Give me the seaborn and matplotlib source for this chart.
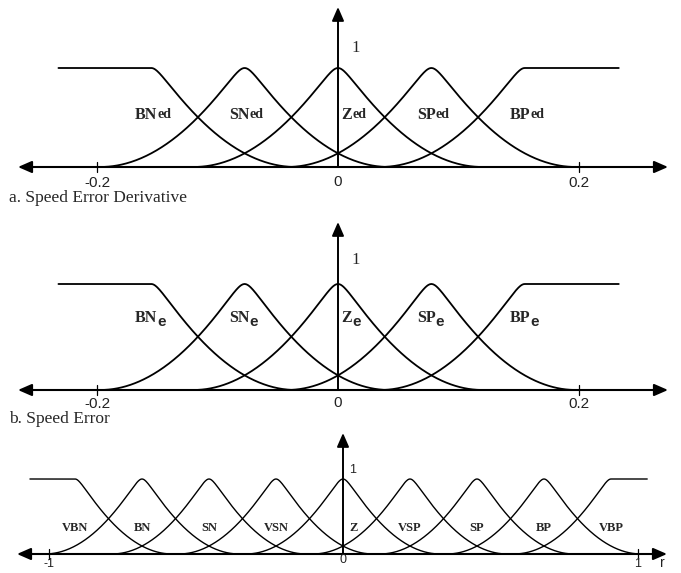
import numpy as np
import pandas as pd
import seaborn as sns
import matplotlib
matplotlib.use("Agg")
import matplotlib.pyplot as plt

# ---------------- membership-function definitions ----------------
# input sets (speed error derivative / speed error)
in_sets = ["BN", "SN", "Z", "SP", "BP"]
in_centers = [-0.155, -0.0775, 0.0, 0.0775, 0.155]
in_halfwidth = 0.12
in_universe = [-0.232, 0.233]
in_ticks = [-0.2, 0.0, 0.2]
in_tick_labels = ["-0.2", "0", "0.2"]

# output sets
out_sets = ["VBN", "BN", "SN", "VSN", "Z", "VSP", "SP", "BP", "VBP"]
out_centers = [-0.91, -0.6825, -0.455, -0.2275, 0.0, 0.2275, 0.455, 0.6825, 0.91]
out_halfwidth = 0.33
out_universe = [-1.063, 1.033]
out_ticks = [-1.0, 0.0, 1.0]
out_tick_labels = ["-1", "0", "1"]

captions = ["a. Speed Error Derivative", "b. Speed Error"]
suffixes = ["ed", "e"]

W, H = 681, 573
sns.set_theme(style="white")
plt.rcParams["font.family"] = ["Liberation Serif", "DejaVu Serif"]

fig = plt.figure(figsize=(W / 100, H / 100), dpi=100)
fig.patch.set_facecolor("white")


def bell(u, e=0.05):
    u = np.clip(np.abs(u), 0, 1)
    v = (np.sqrt(u ** 2 + e ** 2) - e) / (np.sqrt(1 + e ** 2) - e)
    return (1 - v) ** 2


def membership_frame(names, centers, hw, universe):
    rows = []
    n = len(names)
    for i, (name, c) in enumerate(zip(names, centers)):
        lo = universe[0] if i == 0 else c - hw
        hi = universe[1] if i == n - 1 else c + hw
        x = np.linspace(lo, hi, 400)
        mu = bell((x - c) / hw)
        if i == 0:
            mu = np.where(x <= c, 1.0, mu)
        if i == n - 1:
            mu = np.where(x >= c, 1.0, mu)
        rows.append(pd.DataFrame({"x": x, "mu": mu, "set": name}))
    return pd.concat(rows, ignore_index=True)


def make_axes(top, bottom, x0, xs, y0, ys):
    ax = fig.add_axes([0, 1 - bottom / H, 1, (bottom - top) / H])
    ax.set_xlim(-x0 / xs, (W - x0) / xs)
    ax.set_ylim((y0 - bottom) / ys, (y0 - top) / ys)
    ax.axis("off")
    return ax


def px(m, xpix, ypix):
    x0, xs, y0, ys = m
    return (xpix - x0) / xs, (y0 - ypix) / ys


def draw_axes_arrows(ax, m, left_px, right_px, top_px):
    x0, xs, y0, ys = m
    style = "<|-|>,head_length=0.55,head_width=0.24"
    ax.annotate("", xy=((right_px - x0) / xs, 0), xytext=((left_px - x0) / xs, 0),
                arrowprops=dict(arrowstyle=style, color="black", lw=1.5,
                                shrinkA=0, shrinkB=0, mutation_scale=15))
    ax.annotate("", xy=(0, (y0 - top_px) / ys), xytext=(0, 0),
                arrowprops=dict(arrowstyle="-|>,head_length=0.55,head_width=0.24",
                                color="black", lw=1.4, shrinkA=0, shrinkB=0,
                                mutation_scale=15))


def draw_ticks(ax, m, ticks, labels, label_rows, fs):
    x0, xs, y0, ys = m
    for t, lab, row in zip(ticks, labels, label_rows):
        if t != 0:
            ax.plot([t, t], [-5 / ys, 5 / ys], color="black", lw=0.9)
        ax.text(t, (y0 - row) / ys, lab, ha="center", va="center",
                fontsize=fs, family="Liberation Sans", color="#222222")


# ---------------- panels a and b ----------------
panel_maps = [
    (0, 212, (338, 1205, 167, 99), 7, 48, 115, 183, 198),
    (212, 432, (338, 1205, 390, 106), 222, 260, 318, 404, 419),
]

df_in = membership_frame(in_sets, in_centers, in_halfwidth, in_universe)

for k, (top, bottom, m, arrow_top, one_row, lab_row, tick_row, cap_row) in enumerate(panel_maps):
    ax = make_axes(top, bottom, *m)
    sns.lineplot(data=df_in, x="x", y="mu", units="set", estimator=None,
                 color="black", lw=1.3, ax=ax, legend=False)
    draw_axes_arrows(ax, m, 18, 668, arrow_top)
    draw_ticks(ax, m, in_ticks, in_tick_labels,
               [tick_row, tick_row - 1, tick_row], 11)
    ax.text(*px(m, 356, one_row), "1", ha="center", va="center", fontsize=12)
    ly = (m[2] - lab_row) / m[3]
    for name, c in zip(in_sets, in_centers):
        if c == 0:
            xpos, ha = 0.003, "left"
        else:
            xpos, ha = c - 5 / m[1], "center"
        base = ax.text(xpos, ly, name, ha=ha, va="center",
                       fontsize=11.5, fontweight="bold")
        if k == 0:
            ax.annotate(suffixes[k], xy=(1, 0.0), xycoords=base,
                        xytext=(0, 1.2), textcoords="offset points",
                        ha="left", va="bottom", fontsize=10, fontweight="bold")
        else:
            ax.annotate(suffixes[k], xy=(1, 0.0), xycoords=base,
                        xytext=(0, -2.0), textcoords="offset points",
                        ha="left", va="bottom", fontsize=11,
                        fontweight="bold", family="Liberation Sans")
    fig.text(9 / W, 1 - cap_row / H, captions[k], ha="left", va="center",
             fontsize=12.5)

# ---------------- panel c ----------------
mc = (343, 294.5, 554, 75)
axc = make_axes(432, 573, *mc)
df_out = membership_frame(out_sets, out_centers, out_halfwidth, out_universe)
sns.lineplot(data=df_out, x="x", y="mu", units="set", estimator=None,
             color="black", lw=1.0, ax=axc, legend=False)
draw_axes_arrows(axc, mc, 17, 667, 433)
draw_ticks(axc, mc, out_ticks, out_tick_labels, [564, 560, 564], 9)
axc.text(*px(mc, 662, 563), "r", ha="center", va="center", fontsize=10,
         family="Liberation Sans", color="#222222")
axc.text(*px(mc, 353, 470), "1", ha="center", va="center", fontsize=9,
         family="Liberation Sans")
lyc = (mc[2] - 528) / mc[3]
for name, c in zip(out_sets, out_centers):
    if c == 0:
        axc.text(0.02, lyc, name, ha="left", va="center", fontsize=9,
                 fontweight="bold")
    else:
        axc.text(c, lyc, name, ha="center", va="center", fontsize=9,
                 fontweight="bold")

fig.savefig("out.png", dpi=100, facecolor="white")
